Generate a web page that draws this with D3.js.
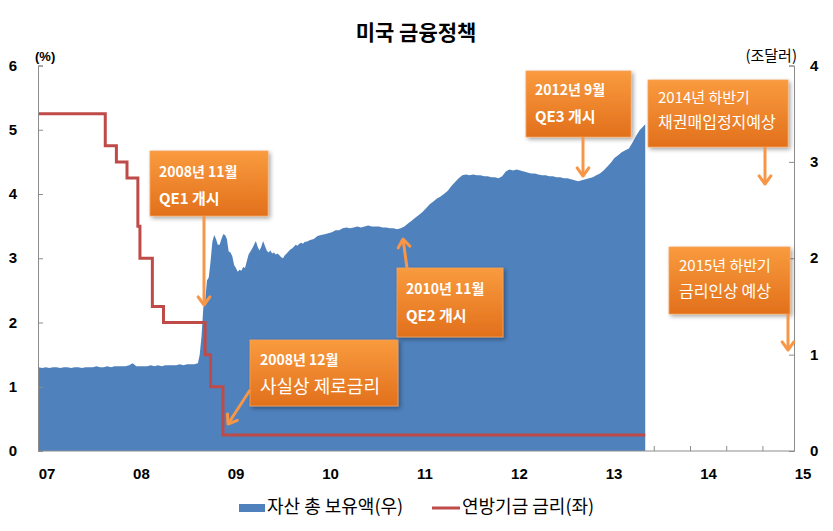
<!DOCTYPE html>
<html><head><meta charset="utf-8">
<script src="https://cdn.jsdelivr.net/npm/d3@7"></script>
<style>
html,body{margin:0;padding:0;background:#fff;}
svg{display:block;}
</style>
</head><body>
<svg id="chart" width="833" height="531"></svg>
<script>
// ---------- DATA ----------
const title = "미국 금융정책";
const xTickYears = [2007, 2008, 2009, 2010, 2011, 2012, 2013, 2014, 2015];
const xTickLabels = ["07", "08", "09", "10", "11", "12", "13", "14", "15"];
const leftTicks = [0, 1, 2, 3, 4, 5, 6];
const rightTicks = [0, 1, 2, 3, 4];
const leftUnit = "(%)";
const rightUnit = "(조달러)";
const seriesNames = ["자산 총 보유액(우)", "연방기금 금리(좌)"];

// Fed balance sheet (trillion USD)
const bsDates = [
"2007-01-03","2007-01-17","2007-01-31","2007-02-14","2007-02-28","2007-03-14","2007-03-28","2007-04-11","2007-04-25","2007-05-09",
"2007-05-23","2007-06-06","2007-06-20","2007-07-04","2007-07-18","2007-08-01","2007-08-15","2007-08-29","2007-09-12","2007-09-26",
"2007-10-10","2007-10-24","2007-11-07","2007-11-21","2007-12-05","2007-12-19","2008-01-02","2008-01-16","2008-01-30","2008-02-13",
"2008-02-27","2008-03-12","2008-03-26","2008-04-09","2008-04-23","2008-05-07","2008-05-21","2008-06-04","2008-06-18","2008-07-02",
"2008-07-16","2008-07-30","2008-08-13","2008-08-27","2008-09-10","2008-09-17","2008-09-24","2008-10-01","2008-10-08","2008-10-15",
"2008-10-22","2008-10-29","2008-11-05","2008-11-12","2008-11-19","2008-11-26","2008-12-03","2008-12-10","2008-12-17","2008-12-24",
"2008-12-31","2009-01-07","2009-01-14","2009-01-21","2009-01-28","2009-02-04","2009-02-11","2009-02-18","2009-02-25","2009-03-04",
"2009-03-11","2009-03-18","2009-03-25","2009-04-01","2009-04-08","2009-04-15","2009-04-22","2009-04-29","2009-05-06","2009-05-13",
"2009-05-20","2009-05-27","2009-06-03","2009-06-10","2009-06-17","2009-06-24","2009-07-01","2009-07-08","2009-07-15","2009-07-22",
"2009-07-29","2009-08-05","2009-08-12","2009-08-19","2009-08-26","2009-09-02","2009-09-09","2009-09-16","2009-09-23","2009-09-30",
"2009-10-07","2009-10-14","2009-10-21","2009-10-28","2009-11-04","2009-11-18","2009-12-02","2009-12-16","2009-12-30","2010-01-13",
"2010-01-27","2010-02-10","2010-02-24","2010-03-10","2010-03-24","2010-04-07","2010-04-21","2010-05-05","2010-05-19","2010-06-02",
"2010-06-16","2010-06-30","2010-07-14","2010-07-28","2010-08-11","2010-08-25","2010-09-08","2010-09-22","2010-10-06","2010-10-20",
"2010-11-03","2010-11-17","2010-12-01","2010-12-15","2010-12-29","2011-01-12","2011-01-26","2011-02-09","2011-02-23","2011-03-09",
"2011-03-23","2011-04-06","2011-04-20","2011-05-04","2011-05-18","2011-06-01","2011-06-15","2011-06-29","2011-07-13","2011-07-27",
"2011-08-10","2011-08-24","2011-09-07","2011-09-21","2011-10-05","2011-10-19","2011-11-02","2011-11-16","2011-11-30","2011-12-14",
"2011-12-28","2012-01-11","2012-01-25","2012-02-08","2012-02-22","2012-03-07","2012-03-21","2012-04-04","2012-04-18","2012-05-02",
"2012-05-16","2012-05-30","2012-06-13","2012-06-27","2012-07-11","2012-07-25","2012-08-08","2012-08-22","2012-09-05","2012-09-19",
"2012-10-03","2012-10-17","2012-10-31","2012-11-14","2012-11-28","2012-12-12","2012-12-26","2013-01-09","2013-01-23","2013-02-06",
"2013-02-20","2013-03-06","2013-03-20","2013-04-03","2013-04-17","2013-05-01","2013-05-15","2013-05-29","2013-06-05"
];
const bsValues = [
0.87,0.86,0.87,0.86,0.87,0.87,0.86,0.87,0.87,0.86,
0.87,0.87,0.86,0.87,0.87,0.87,0.88,0.87,0.87,0.88,
0.87,0.88,0.88,0.88,0.88,0.89,0.91,0.88,0.88,0.88,
0.88,0.89,0.88,0.89,0.88,0.89,0.89,0.89,0.89,0.90,
0.89,0.90,0.90,0.90,0.91,1.00,1.19,1.49,1.55,1.77,
1.80,1.97,2.17,2.24,2.20,2.14,2.14,2.20,2.25,2.24,
2.20,2.07,2.06,2.02,1.93,1.90,1.86,1.88,1.87,1.91,
1.90,1.97,2.04,2.07,2.10,2.14,2.18,2.12,2.08,2.12,
2.18,2.13,2.08,2.06,2.08,2.05,2.06,2.04,2.05,2.03,
2.01,2.00,2.03,2.05,2.07,2.09,2.10,2.12,2.14,2.13,
2.15,2.16,2.15,2.17,2.17,2.19,2.20,2.23,2.24,2.25,
2.26,2.27,2.29,2.29,2.31,2.32,2.31,2.32,2.33,2.32,
2.33,2.34,2.33,2.33,2.33,2.32,2.32,2.31,2.31,2.30,
2.31,2.33,2.36,2.39,2.42,2.45,2.48,2.52,2.56,2.59,
2.62,2.64,2.67,2.70,2.75,2.79,2.83,2.86,2.87,2.86,
2.87,2.86,2.86,2.85,2.85,2.84,2.84,2.83,2.85,2.90,
2.92,2.91,2.92,2.91,2.90,2.89,2.88,2.88,2.87,2.86,
2.86,2.85,2.85,2.84,2.84,2.83,2.83,2.82,2.81,2.80,
2.81,2.82,2.83,2.84,2.86,2.88,2.91,2.95,2.99,3.04,
3.07,3.10,3.12,3.14,3.20,3.27,3.33,3.37,3.39
];

// Fed funds target rate (%), step changes
const ffDates = ["2007-01-01","2007-09-18","2007-10-31","2007-12-11","2008-01-22","2008-01-30","2008-03-18","2008-04-30","2008-10-08","2008-10-29","2008-12-16","2013-06-05"];
const ffValues = [5.25, 4.75, 4.5, 4.25, 3.5, 3.0, 2.25, 2.0, 1.5, 1.0, 0.25, 0.25];

// Annotations (layout of callouts)
const notes = [
  {box:[150,151,118,65], tx:159, lines:[{t:"2008년 11월",y:173,s:14,w:"bold"},{t:"QE1 개시",y:200,s:15,w:"bold"}], arrow:[204,216,204,305]},
  {box:[250,340,148,66], tx:260, lines:[{t:"2008년 12월",y:361,s:14,w:"bold"},{t:"사실상 제로금리",y:388,s:18,w:"normal"}], arrow:[250,390,228,424]},
  {box:[397,268,106,69], tx:406, lines:[{t:"2010년 11월",y:290,s:14,w:"bold"},{t:"QE2 개시",y:317,s:15,w:"bold"}], arrow:[407,268,403,239]},
  {box:[526,71,105,66], tx:535, lines:[{t:"2012년 9월",y:91,s:14,w:"bold"},{t:"QE3 개시",y:118,s:15,w:"bold"}], arrow:[583,137,583,176]},
  {box:[648,80,140,67], tx:658, lines:[{t:"2014년 하반기",y:99,s:15,w:"normal"},{t:"채권매입정지예상",y:124,s:16,w:"normal"}], arrow:[765,147,765,184]},
  {box:[669,247,121,67], tx:679, lines:[{t:"2015년 하반기",y:267,s:15,w:"normal"},{t:"금리인상 예상",y:293,s:16,w:"normal"}], arrow:[788,314,788,350]}
];

// ---------- CHART ----------
const svg = d3.select("#chart");
const parse = d3.utcParse("%Y-%m-%d");
const KR = "'Noto Sans CJK KR', 'Noto Sans', sans-serif";
const NUM = "'Liberation Sans', Arial, sans-serif";

const X0 = 38, X1 = 794, Y0 = 451, YT = 65.5;
const x = d3.scaleUtc().domain([Date.UTC(2007,0,1), Date.UTC(2015,0,1)]).range([X0, X1]);
const yL = d3.scaleLinear().domain([0, 6]).range([Y0, YT]);
const yR = d3.scaleLinear().domain([0, 4]).range([Y0, YT]);

const defs = svg.append("defs");
const grad = defs.append("linearGradient").attr("id","og").attr("x1",0).attr("y1",0).attr("x2",0).attr("y2",1);
grad.append("stop").attr("offset","0%").attr("stop-color","#f99b3e");
grad.append("stop").attr("offset","100%").attr("stop-color","#e2701c");
const f = defs.append("filter").attr("id","sh").attr("x","-10%").attr("y","-10%").attr("width","130%").attr("height","140%");
f.append("feDropShadow").attr("dx",2).attr("dy",2).attr("stdDeviation",2).attr("flood-color","#000").attr("flood-opacity",0.35);

// title
svg.append("text").attr("x",416).attr("y",40).attr("text-anchor","middle")
  .attr("font-family",KR).attr("font-weight","bold").attr("font-size",21).attr("fill","#000").text(title);

// units
svg.append("text").attr("x",35).attr("y",61).attr("font-family",NUM).attr("font-weight","bold").attr("font-size",13).text(leftUnit);
svg.append("text").attr("x",797).attr("y",61).attr("text-anchor","end").attr("font-family",KR).attr("font-size",15).text(rightUnit);

// x minor ticks (every 140 days)
const minorTicks = d3.range(0, 21).map(k => new Date(Date.UTC(2007,0,1) + k*140*86400000));
const gx = svg.append("g").attr("transform",`translate(0,${Y0})`);
gx.call(d3.axisBottom(x).tickValues(minorTicks).tickSize(-5).tickFormat(""));
gx.select(".domain").remove();
gx.selectAll(".tick line").attr("stroke","#8c8c8c");

// area
const bs = bsDates.map((d,i)=>({date:parse(d), v:bsValues[i]}));
svg.append("path").datum(bs)
  .attr("d", d3.area().x(d=>x(d.date)).y0(yR(0)).y1(d=>yR(d.v)))
  .attr("fill","#4f81bd");

// fed funds line
const ff = ffDates.map((d,i)=>({date:parse(d), v:ffValues[i]}));
svg.append("path").datum(ff)
  .attr("d", d3.line().x(d=>x(d.date)).y(d=>yL(d.v)).curve(d3.curveStepAfter))
  .attr("fill","none").attr("stroke","#be4b48").attr("stroke-width",3);

// axes lines
svg.append("line").attr("x1",X0).attr("x2",X1).attr("y1",Y0).attr("y2",Y0).attr("stroke","#8c8c8c");
const gl = svg.append("g").attr("transform",`translate(${X0},0)`).call(d3.axisRight(yL).tickValues(leftTicks).tickSize(5).tickFormat(""));
gl.selectAll("path,line").attr("stroke","#8c8c8c");
const gr = svg.append("g").attr("transform",`translate(${X1},0)`).call(d3.axisLeft(yR).tickValues(rightTicks).tickSize(5).tickFormat(""));
gr.selectAll("path,line").attr("stroke","#8c8c8c");

// tick labels
svg.append("g").selectAll("text").data(leftTicks).join("text")
  .attr("x",17).attr("y",d=>yL(d)+5).attr("text-anchor","end")
  .attr("font-family",NUM).attr("font-weight","bold").attr("font-size",15).text(d=>d);
svg.append("g").selectAll("text").data(rightTicks).join("text")
  .attr("x",810).attr("y",d=>yR(d)+5).attr("text-anchor","start")
  .attr("font-family",NUM).attr("font-weight","bold").attr("font-size",15).text(d=>d);
svg.append("g").selectAll("text").data(xTickYears).join("text")
  .attr("x",d=>x(Date.UTC(d,0,1))+9).attr("y",479).attr("text-anchor","middle")
  .attr("font-family",NUM).attr("font-weight","bold").attr("font-size",15).text((d,i)=>xTickLabels[i]);

// annotations
const arrowColor = "#f79646";
notes.forEach(n=>{
  const [bx,by,bw,bh] = n.box;
  svg.append("rect").attr("x",bx).attr("y",by).attr("width",bw).attr("height",bh)
    .attr("fill","url(#og)").attr("stroke","#f6a45c").attr("stroke-width",0.8).attr("filter","url(#sh)");
  n.lines.forEach(l=>{
    svg.append("text").attr("x",n.tx).attr("y",l.y).attr("dominant-baseline","middle")
      .attr("font-family",KR).attr("font-weight",l.w).attr("font-size",l.s).attr("fill","#fff").text(l.t);
  });
  const [ax1,ay1,ax2,ay2] = n.arrow;
  const ang = Math.atan2(ay2-ay1, ax2-ax1);
  const hl = 10, ha = Math.PI/5;
  const p1 = [ax2 - hl*Math.cos(ang-ha), ay2 - hl*Math.sin(ang-ha)];
  const p2 = [ax2 - hl*Math.cos(ang+ha), ay2 - hl*Math.sin(ang+ha)];
  svg.append("line").attr("x1",ax1).attr("y1",ay1).attr("x2",ax2).attr("y2",ay2)
    .attr("stroke",arrowColor).attr("stroke-width",3);
  svg.append("path").attr("d",`M${p1[0]},${p1[1]}L${ax2},${ay2}L${p2[0]},${p2[1]}`)
    .attr("fill","none").attr("stroke",arrowColor).attr("stroke-width",3).attr("stroke-linejoin","round").attr("stroke-linecap","round");
});

// legend
svg.append("rect").attr("x",239).attr("y",504).attr("width",26).attr("height",8).attr("fill","#4f81bd");
svg.append("text").attr("x",267).attr("y",508).attr("dominant-baseline","middle")
  .attr("font-family",KR).attr("font-size",18).attr("fill","#000").text(seriesNames[0]);
svg.append("line").attr("x1",432).attr("x2",460).attr("y1",508).attr("y2",508).attr("stroke","#be4b48").attr("stroke-width",3);
svg.append("text").attr("x",462).attr("y",508).attr("dominant-baseline","middle")
  .attr("font-family",KR).attr("font-size",18).attr("fill","#000").text(seriesNames[1]);
</script>
</body></html>
